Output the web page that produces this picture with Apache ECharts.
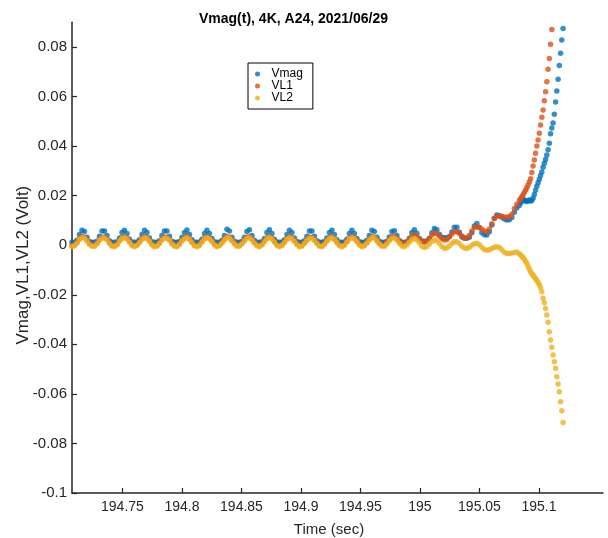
<!DOCTYPE html>
<html>
<head>
<meta charset="utf-8">
<script src="https://cdn.jsdelivr.net/npm/echarts@6/dist/echarts.min.js"></script>
<style>html,body{margin:0;padding:0;background:#fff;}#c{width:608px;height:538px;}</style>
</head>
<body>
<div id="c"></div>
<script>
const tStart = 194.7076, coarseStep = 0.0021;
const fineStart = 195.08455, fineStep = 0.00105;

// Vmag (coarse part, 180 values)
const vmagA = [
.0012,.0012,.0020,.0043,.0060,.0055,.0032,.0015,.0012,.0012,
.0016,.0036,.0057,.0057,.0039,.0018,.0012,.0012,.0014,.0029,
.0051,.0060,.0047,.0024,.0013,.0012,.0013,.0022,.0043,.0060,
.0051,.0029,.0014,.0012,.0012,.0018,.0039,.0057,.0057,.0036,
.0016,.0012,.0012,.0015,.0032,.0051,.0061,.0043,.0022,.0012,
.0012,.0013,.0024,.0047,.0060,.0047,.0027,.0014,.0012,.0012,
.0020,.0039,.0064,.0057,.0032,.0016,.0012,.0012,.0016,.0032,
.0055,.0062,.0039,.0020,.0012,.0012,.0014,.0027,.0051,.0062,
.0047,.0024,.0013,.0012,.0013,.0022,.0043,.0060,.0051,.0029,
.0015,.0012,.0012,.0018,.0036,.0057,.0057,.0036,.0018,.0012,
.0012,.0015,.0029,.0051,.0060,.0043,.0022,.0012,.0012,.0013,
.0024,.0047,.0060,.0047,.0027,.0014,.0012,.0012,.0020,.0039,
.0060,.0055,.0032,.0016,.0012,.0012,.0016,.0033,.0055,.0058,
.0039,.0019,.0012,.0012,.0014,.0028,.0051,.0062,.0048,.0027,
.0017,.0016,.0017,.0027,.0050,.0067,.0062,.0044,.0032,.0030,
.0030,.0035,.0053,.0072,.0072,.0052,.0033,.0028,.0028,.0032,
.0050,.0078,.0088,.0071,.0050,.0042,.0041,.0054,.0082,.0109,
.0122,.0120,.0113,.0106,.0102,.0103,.0112,.0133,.0150,.0160
];
// Vmag (fine tail)
const vmagB = [
.0170,.0178,.0184,.0182,.0178,.0176,.0179,.0182,.0178,.0180,
.0190,.0205,.0222,.0238,.0252,.0266,.0281,.0295,.0315,.0331,
.0346,.0364,.0385,.0411,.0450,.0473,.0493,.0529,.0578,.0622,
.0670,.0725,.0775,.0828,.0875
];

// VL1 (coarse part)
const vl1A = [
-.0002,.0002,.0012,.0027,.0034,.0032,.0021,.0007,.0000,.0000,
.0009,.0023,.0032,.0032,.0025,.0011,.0000,-.0002,.0005,.0020,
.0030,.0034,.0029,.0016,.0003,-.0002,.0003,.0014,.0027,.0034,
.0030,.0020,.0005,-.0002,.0000,.0011,.0025,.0032,.0032,.0023,
.0009,.0000,-.0002,.0007,.0021,.0030,.0034,.0027,.0014,.0002,
-.0002,.0003,.0016,.0029,.0034,.0029,.0018,.0005,-.0002,.0002,
.0012,.0025,.0034,.0032,.0021,.0009,.0000,.0000,.0009,.0021,
.0032,.0034,.0025,.0012,.0002,-.0002,.0005,.0018,.0030,.0034,
.0029,.0016,.0003,-.0002,.0003,.0014,.0027,.0034,.0030,.0020,
.0007,-.0002,.0000,.0011,.0023,.0032,.0032,.0023,.0011,.0000,
-.0002,.0007,.0020,.0030,.0034,.0027,.0014,.0002,-.0002,.0003,
.0016,.0029,.0034,.0029,.0018,.0005,-.0002,.0002,.0012,.0025,
.0034,.0032,.0021,.0009,.0000,.0000,.0011,.0024,.0034,.0035,
.0028,.0016,.0007,.0004,.0011,.0024,.0036,.0040,.0036,.0026,
.0016,.0012,.0016,.0028,.0041,.0048,.0046,.0037,.0027,.0021,
.0023,.0033,.0045,.0054,.0054,.0047,.0037,.0030,.0029,.0039,
.0057,.0071,.0075,.0071,.0064,.0057,.0055,.0065,.0087,.0108,
.0118,.0117,.0116,.0114,.0113,.0116,.0125,.0148,.0165,.0180
];
// VL1 (fine tail, leaves the plot at the top)
const vl1B = [
.0188,.0196,.0204,.0213,.0222,.0232,.0243,.0255,.0268,.0293,
.0320,.0344,.0371,.0400,.0425,.0452,.0485,.0516,.0546,.0583,
.0619,.0660,.0710,.0754,.0811,.0871
];

// VL2 (coarse part)
const vl2A = [
-.0006,-.0002,.0008,.0023,.0030,.0028,.0017,.0003,-.0004,-.0004,
.0005,.0019,.0028,.0028,.0021,.0007,-.0004,-.0006,.0001,.0016,
.0026,.0030,.0025,.0012,-.0001,-.0006,-.0001,.0010,.0023,.0030,
.0026,.0016,.0001,-.0006,-.0004,.0007,.0021,.0028,.0028,.0019,
.0005,-.0004,-.0006,.0003,.0017,.0026,.0030,.0023,.0010,-.0002,
-.0006,-.0001,.0012,.0025,.0030,.0025,.0014,.0001,-.0006,-.0002,
.0008,.0021,.0030,.0028,.0017,.0005,-.0004,-.0004,.0005,.0017,
.0028,.0030,.0021,.0008,-.0002,-.0006,.0001,.0014,.0026,.0030,
.0025,.0012,-.0001,-.0006,-.0001,.0010,.0023,.0030,.0026,.0016,
.0003,-.0006,-.0004,.0007,.0019,.0028,.0028,.0019,.0007,-.0004,
-.0006,.0003,.0016,.0026,.0030,.0023,.0010,-.0002,-.0006,-.0001,
.0012,.0025,.0030,.0025,.0014,.0001,-.0006,-.0002,.0008,.0021,
.0030,.0028,.0017,.0005,-.0004,-.0004,.0005,.0018,.0028,.0029,
.0021,.0008,-.0003,-.0006,.0001,.0012,.0023,.0027,.0021,.0009,
-.0004,-.0009,-.0005,.0005,.0015,.0021,.0018,.0008,-.0005,-.0012,
-.0011,-.0003,.0007,.0014,.0014,.0007,-.0004,-.0011,-.0013,-.0008,
.0000,.0006,.0008,.0002,-.0008,-.0017,-.0020,-.0018,-.0013,-.0008,
-.0006,-.0009,-.0018,-.0028,-.0033,-.0033,-.0031,-.0029,-.0027,-.0034
];
// VL2 (fine tail)
const vl2B = [
-.0040,-.0045,-.0050,-.0057,-.0065,-.0073,-.0085,-.0097,-.0107,-.0115,
-.0121,-.0128,-.0135,-.0142,-.0150,-.0160,-.0172,-.0188,-.0214,-.0232,
-.0255,-.0282,-.0311,-.0349,-.0383,-.0412,-.0443,-.0470,-.0497,-.0531,
-.0560,-.0591,-.0632,-.0668,-.0715
];

const seriesNames = ['Vmag', 'VL1', 'VL2'];
const xTicks = [194.75, 194.8, 194.85, 194.9, 194.95, 195, 195.05, 195.1];
const yTicks = [-0.1, -0.08, -0.06, -0.04, -0.02, 0, 0.02, 0.04, 0.06, 0.08];

function build(coarse, fine) {
  const pts = [];
  coarse.forEach((v, i) => pts.push([tStart + i * coarseStep, v]));
  fine.forEach((v, j) => pts.push([fineStart + j * fineStep, v]));
  return pts;
}

const FONT = "'Liberation Sans', Arial, Helvetica, sans-serif";
const AX = '#262626';
const colors = ['#0072BD', '#D95319', '#EDB120'];
const fmt = v => String(+Number(v).toFixed(4));

const chart = echarts.init(document.getElementById('c'), null, {renderer: 'canvas'});
chart.setOption({
  animation: false,
  backgroundColor: '#fff',
  color: colors,
  title: {
    text: 'Vmag(t), 4K, A24, 2021/06/29',
    left: 288.5, top: 7, textAlign: 'center',
    textStyle: {fontFamily: FONT, fontSize: 14, fontWeight: 'bold', color: '#000'}
  },
  legend: {
    orient: 'vertical', left: 248, top: 63,
    padding: [5, 10, 5, 7], itemGap: 0,
    itemWidth: 18, itemHeight: 5, icon: 'circle',
    borderColor: '#000', borderWidth: 1, backgroundColor: '#fff',
    textStyle: {fontFamily: FONT, fontSize: 12, color: '#000', lineHeight: 10.7},
    data: seriesNames
  },
  grid: {left: 72, right: 5, top: 22.2, bottom: 45, containLabel: false, outerBoundsMode: 'none'},
  xAxis: {
    type: 'value', min: 194.7076, max: 195.1538,
    name: 'Time (sec)', nameLocation: 'middle', nameGap: 29, nameMoveOverlap: false,
    nameTextStyle: {fontFamily: FONT, fontSize: 15, color: AX, padding: [0, 17, 0, 0]},
    axisLine: {show: true, onZero: false, lineStyle: {color: AX, width: 1.5}},
    axisTick: {show: true, inside: true, length: 5, customValues: xTicks, lineStyle: {color: AX, width: 1.2}},
    axisLabel: {customValues: xTicks, formatter: fmt, margin: 7, fontFamily: FONT, fontSize: 14, color: AX},
    splitLine: {show: false}
  },
  yAxis: {
    type: 'value', min: -0.1, max: 0.09,
    name: 'Vmag,VL1,VL2 (Volt)', nameLocation: 'middle', nameGap: 40, nameMoveOverlap: false,
    nameTextStyle: {fontFamily: FONT, fontSize: 17, color: AX, padding: [0, 15, 0, 0]},
    axisLine: {show: true, onZero: false, lineStyle: {color: AX, width: 1.5}},
    axisTick: {show: true, inside: true, length: 5, customValues: yTicks, lineStyle: {color: AX, width: 1.2}},
    axisLabel: {customValues: yTicks, formatter: fmt, margin: 5, fontFamily: FONT, fontSize: 15, color: AX},
    splitLine: {show: false}
  },
  series: [
    {name: seriesNames[0], type: 'scatter', symbol: 'circle', symbolSize: 5.5, clip: true, data: build(vmagA, vmagB)},
    {name: seriesNames[1], type: 'scatter', symbol: 'circle', symbolSize: 5.5, clip: true, data: build(vl1A, vl1B)},
    {name: seriesNames[2], type: 'scatter', symbol: 'circle', symbolSize: 5.5, clip: true, data: build(vl2A, vl2B)}
  ]
});
</script>
</body>
</html>
